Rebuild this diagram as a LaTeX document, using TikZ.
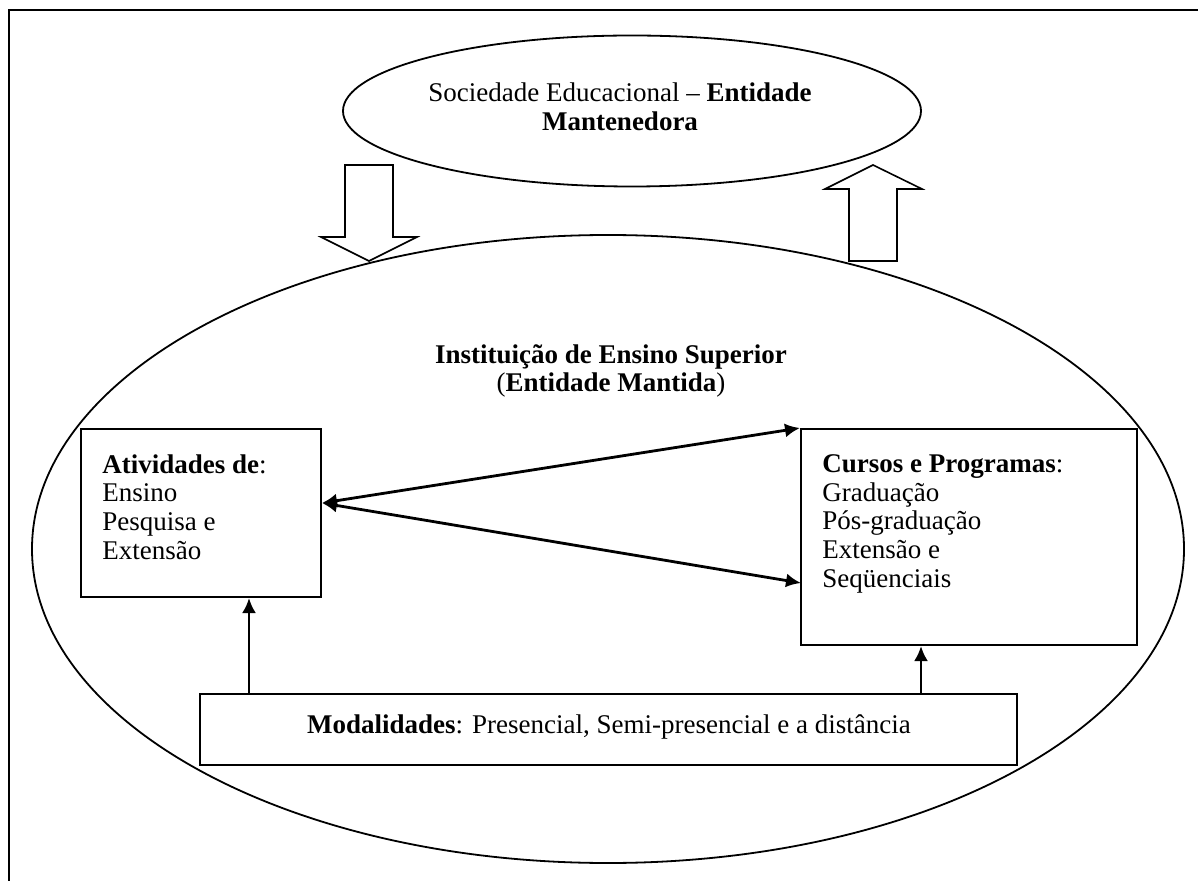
\documentclass[tikz,border=0pt]{standalone}
\usepackage{fontspec}
\setmainfont{Liberation Serif}
\usetikzlibrary{shapes.geometric,arrows.meta}
\begin{document}
\begin{tikzpicture}[x=0.5pt,y=-0.5pt,
  txt/.style={font=\fontsize{13.5}{14.4}\selectfont, inner sep=0pt},
  boxnode/.style={draw, line width=1pt, inner sep=0pt},
  ell/.style={draw, ellipse, line width=0.9pt, inner sep=0pt},
  blockarrow/.style={draw, line width=0.8pt, line join=miter},
  link/.style={line width=1.4pt, {Latex[length=7.5pt,width=7pt]}-{Latex[length=7.5pt,width=7pt]}},
  uplink/.style={line width=1.4pt, -{Latex[length=7.5pt,width=7pt]}}]
\useasboundingbox (0,0) rectangle (1198,881);
% outer frame (open at right and bottom)
\draw[line width=1.1pt] (9,881) -- (9,10) -- (1198,10);
% ellipses
\node[ell, minimum width=289pt, minimum height=75.5pt] (soc) at (632,111) {};
\node[txt, align=center] (soctext) at (620,107) {Sociedade Educacional – \textbf{Entidade}\\\textbf{Mantenedora}};
\node[ell, minimum width=576pt, minimum height=314pt] (ies) at (608,549) {};
\node[txt, align=center] (iestext) at (611,371) {\textbf{Instituição de Ensino Superior}\\(\textbf{Entidade Mantida})};
% block arrows
\draw[blockarrow] (345,165) -- (393,165) -- (393,237) -- (417,237) -- (369,261) -- (321,237) -- (345,237) -- cycle;
\draw[blockarrow] (849,261) -- (897,261) -- (897,189) -- (922,189) -- (873,165) -- (825,189) -- (849,189) -- cycle;
% boxes
\node[boxnode, minimum width=120pt, minimum height=84pt] (act) at (201,513) {};
\node[txt, align=left, anchor=north west] (acttext) at (102,454) {\textbf{Atividades de}:\\Ensino\\Pesquisa e\\Extensão};
\node[boxnode, minimum width=168pt, minimum height=108pt] (cur) at (969,537) {};
\node[txt, align=left, anchor=north west] (curtext) at (822,454) {\textbf{Cursos e Programas}:\\Graduação\\Pós-graduação\\Extensão e\\Seqüenciais};
\node[boxnode, minimum width=408.5pt, minimum height=35.5pt] (mod) at (608.5,729.5) {};
\node[txt] (modtext) at (609,727) {\textbf{Modalidades}: Presencial, Semi-presencial e a distância};
% connectors
\coordinate (aL) at (322,503);
\coordinate (cL) at (801,583);
\draw[link] (aL) -- (cur.north west);
\draw[link] (aL) -- (cL);
\draw[uplink] (mod.north -| 249,0) -- (act.south -| 249,0);
\draw[uplink] (mod.north -| 921,0) -- (cur.south -| 921,0);
\end{tikzpicture}
\end{document}
